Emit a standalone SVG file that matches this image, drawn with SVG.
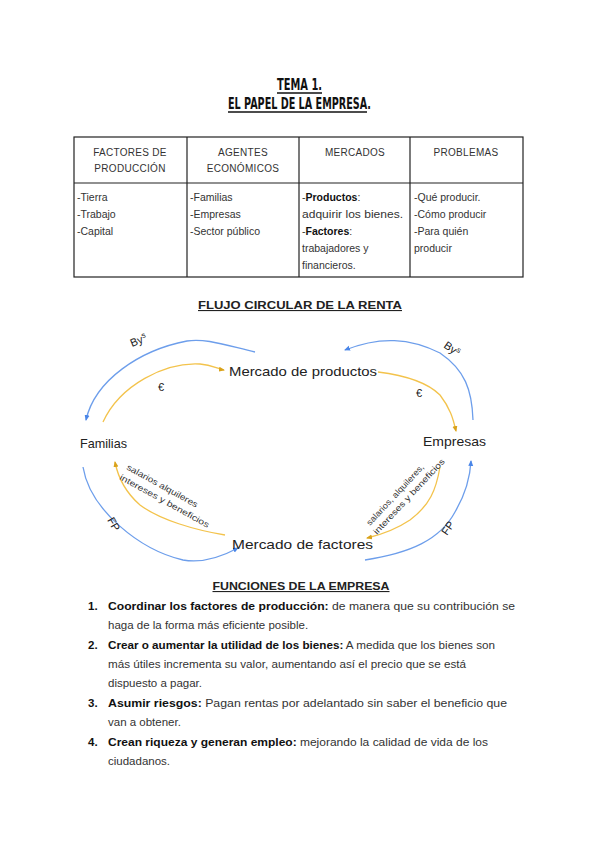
<svg xmlns="http://www.w3.org/2000/svg" width="600" height="848" viewBox="0 0 600 848">
<style>
text{font-family:"Liberation Sans","DejaVu Sans",sans-serif;fill:#333}
.title{font-family:"DejaVu Sans Condensed","Liberation Sans Narrow",sans-serif;font-weight:bold;fill:#111;font-size:16px}
.uline{stroke:#111;stroke-width:1.6}
.hd{font-size:10px;text-anchor:middle;letter-spacing:0.3px}
.cell{font-size:10.5px}
.b{font-weight:bold;fill:#111}
.sec{font-size:11px;font-weight:bold;fill:#222;text-decoration:underline;text-anchor:middle}
.node{font-size:13px;fill:#222}
.lbl{font-size:11px;fill:#222}
.small{font-size:8.5px;fill:#333}
.body{font-size:11.5px}
.blue{fill:none;stroke:#6d9eeb;stroke-width:1.3;marker-end:url(#ab)}
.orange{fill:none;stroke:#f3c34c;stroke-width:1.3;marker-end:url(#ao)}
.grid{stroke:#222;stroke-width:1.2;fill:none}
</style>
<defs>
<marker id="ab" markerWidth="6" markerHeight="6" refX="5" refY="3" orient="auto" markerUnits="userSpaceOnUse"><path d="M0,0.5 L6,3 L0,5.5 Z" fill="#4a86e8"/></marker>
<marker id="ao" markerWidth="6" markerHeight="6" refX="5" refY="3" orient="auto" markerUnits="userSpaceOnUse"><path d="M0,0.5 L6,3 L0,5.5 Z" fill="#d9a21b"/></marker>
</defs>
<rect width="600" height="848" fill="#fff"/>
<g id="title">
<text class="title" x="277" y="90" textLength="45" lengthAdjust="spacingAndGlyphs">TEMA 1.</text>
<line class="uline" x1="277" y1="93" x2="322" y2="93"/>
<text class="title" x="228" y="109" textLength="143" lengthAdjust="spacingAndGlyphs">EL PAPEL DE LA EMPRESA.</text>
<line class="uline" x1="228" y1="112" x2="367" y2="112"/>
</g>
<g id="table">
<rect class="grid" x="74" y="137" width="449" height="140"/>
<line class="grid" x1="74" y1="183" x2="523" y2="183"/>
<line class="grid" x1="187" y1="137" x2="187" y2="277"/>
<line class="grid" x1="299" y1="137" x2="299" y2="277"/>
<line class="grid" x1="410" y1="137" x2="410" y2="277"/>
<text class="hd" x="130" y="156">FACTORES DE</text>
<text class="hd" x="130" y="172">PRODUCCIÓN</text>
<text class="hd" x="243" y="156">AGENTES</text>
<text class="hd" x="243" y="172">ECONÓMICOS</text>
<text class="hd" x="355" y="156">MERCADOS</text>
<text class="hd" x="466" y="156">PROBLEMAS</text>
<text class="cell" x="77" y="201">-Tierra</text>
<text class="cell" x="77" y="218">-Trabajo</text>
<text class="cell" x="77" y="235">-Capital</text>
<text class="cell" x="190" y="201">-Familias</text>
<text class="cell" x="190" y="218">-Empresas</text>
<text class="cell" x="190" y="235">-Sector público</text>
<text class="cell" x="302" y="201">-<tspan class="b">Productos</tspan>:</text>
<text class="cell" x="302" y="218" textLength="101" lengthAdjust="spacingAndGlyphs">adquirir los bienes.</text>
<text class="cell" x="302" y="235">-<tspan class="b">Factores</tspan>:</text>
<text class="cell" x="302" y="252">trabajadores y</text>
<text class="cell" x="302" y="269">financieros.</text>
<text class="cell" x="414" y="201">-Qué producir.</text>
<text class="cell" x="414" y="218">-Cómo producir</text>
<text class="cell" x="414" y="235">-Para quién</text>
<text class="cell" x="414" y="252">producir</text>
</g>
<text class="sec" x="300" y="309" textLength="204" lengthAdjust="spacingAndGlyphs">FLUJO CIRCULAR DE LA RENTA</text>
<g id="connectors">
<path class="blue" d="M255,352 C225,345 205,338 187,341 C140,350 95,380 86,420"/>
<path class="orange" d="M103,422 C120,385 165,362 200,364 C212,365 218,369 224,370"/>
<path class="blue" d="M473,420 C472,390 465,370 440,353 C410,338 380,336 345,350"/>
<path class="orange" d="M378,372 C410,376 430,385 440,395 C450,408 453,418 456,431"/>
<path class="blue" d="M365,560 C410,553 440,540 455,512 C465,495 470,480 471,461"/>
<path class="orange" d="M440,467 C436,490 430,505 410,520 C395,530 380,535 367,538"/>
<path class="blue" d="M83,467 C90,510 140,550 183,560 C205,564 225,555 238,548"/>
<path class="orange" d="M225,535 C195,530 160,520 140,505 C125,492 118,477 115,462"/>
<text class="lbl" transform="translate(132,347) rotate(-22)">By<tspan dy="-4" font-size="8">s</tspan></text>
<text class="lbl" transform="translate(443,347) rotate(35)">By<tspan dy="-4" font-size="8">s</tspan></text>
<text class="lbl" x="158" y="391">€</text>
<text class="lbl" x="416" y="397">€</text>
<text class="lbl" transform="translate(107,520) rotate(60)">FP</text>
<text class="lbl" transform="translate(447,536) rotate(-55)">FP</text>
<text class="small" transform="translate(126,469) rotate(29)" textLength="80" lengthAdjust="spacingAndGlyphs">salarios alquileres</text>
<text class="small" transform="translate(119,479) rotate(29)" textLength="101" lengthAdjust="spacingAndGlyphs">intereses y beneficios</text>
<text class="small" transform="translate(370,526) rotate(-47)" textLength="80" lengthAdjust="spacingAndGlyphs">salarios, alquileres,</text>
<text class="small" transform="translate(377,535) rotate(-47)" textLength="100" lengthAdjust="spacingAndGlyphs">intereses y beneficios</text>
</g>
<g id="mercado-productos"><text class="node" x="229" y="376" textLength="148" lengthAdjust="spacingAndGlyphs">Mercado de productos</text></g>
<g id="familias"><text class="node" x="80" y="448" textLength="47" lengthAdjust="spacingAndGlyphs">Familias</text></g>
<g id="empresas"><text class="node" x="423" y="446" textLength="63" lengthAdjust="spacingAndGlyphs">Empresas</text></g>
<g id="mercado-factores"><text class="node" x="232" y="549" textLength="141" lengthAdjust="spacingAndGlyphs">Mercado de factores</text></g>
<g id="funciones">
<text class="sec" x="301" y="590" textLength="177" lengthAdjust="spacingAndGlyphs">FUNCIONES DE LA EMPRESA</text>
<text class="body b" x="88" y="610">1.</text>
<text class="body" x="108" y="610" textLength="407" lengthAdjust="spacingAndGlyphs"><tspan class="b">Coordinar los factores de producción:</tspan> de manera que su contribución se</text>
<text class="body" x="108" y="629">haga de la forma más eficiente posible.</text>
<text class="body b" x="88" y="649">2.</text>
<text class="body" x="108" y="649" textLength="387" lengthAdjust="spacingAndGlyphs"><tspan class="b">Crear o aumentar la utilidad de los bienes:</tspan> A medida que los bienes son</text>
<text class="body" x="108" y="668" textLength="358" lengthAdjust="spacingAndGlyphs">más útiles incrementa su valor, aumentando así el precio que se está</text>
<text class="body" x="108" y="687">dispuesto a pagar.</text>
<text class="body b" x="88" y="707">3.</text>
<text class="body" x="108" y="707" textLength="399" lengthAdjust="spacingAndGlyphs"><tspan class="b">Asumir riesgos:</tspan> Pagan rentas por adelantado sin saber el beneficio que</text>
<text class="body" x="108" y="726">van a obtener.</text>
<text class="body b" x="88" y="746">4.</text>
<text class="body" x="108" y="746" textLength="380" lengthAdjust="spacingAndGlyphs"><tspan class="b">Crean riqueza y generan empleo:</tspan> mejorando la calidad de vida de los</text>
<text class="body" x="108" y="765">ciudadanos.</text>
</g>
</svg>
